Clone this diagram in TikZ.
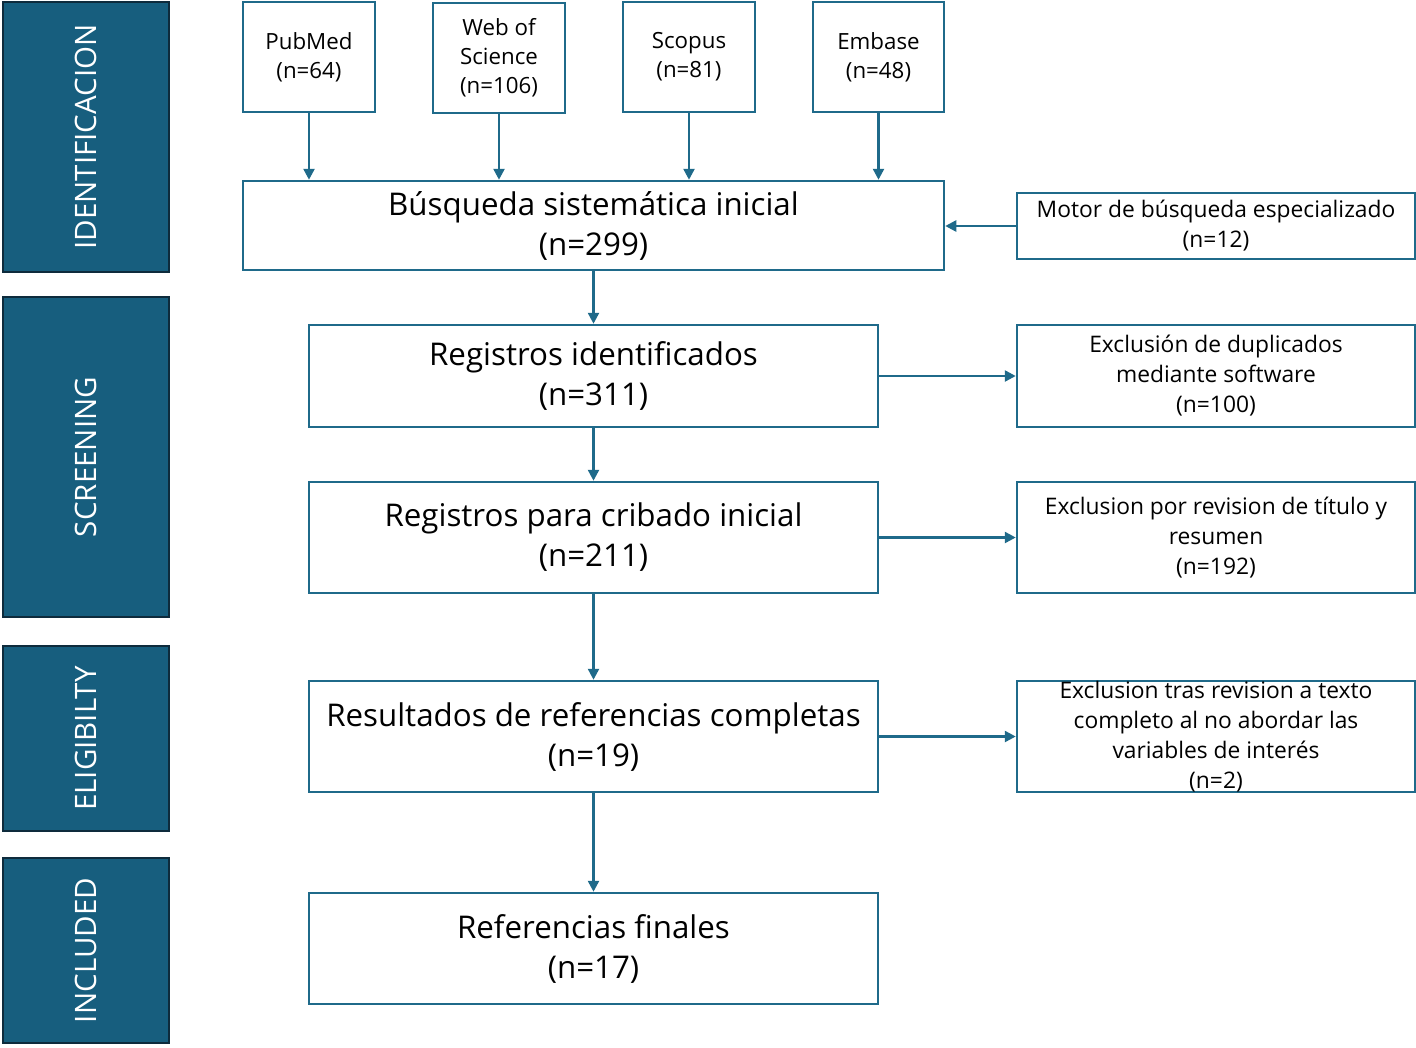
\documentclass[tikz,border=0pt]{standalone}
\usepackage{fontspec}
\setmainfont[Ligatures=NoCommon]{Open Sans}
\usetikzlibrary{arrows.meta}
\definecolor{phasefill}{HTML}{175E7E}
\definecolor{phaseborder}{HTML}{0E2B3C}
\definecolor{boxblue}{HTML}{1F6A8A}
\tikzset{
  phase/.style = {draw=phaseborder, fill=phasefill, line width=2pt, text=white,
                  rotate=90, inner sep=0pt, font=\fontsize{29.5}{34}\selectfont},
  dbbox/.style = {draw=boxblue, line width=2.5pt, align=center, inner sep=0pt,
                  font=\fontsize{22.3}{29}\selectfont},
  stagebox/.style = {draw=boxblue, line width=2.5pt, align=center, inner sep=0pt,
                  font=\fontsize{31.3}{40}\selectfont},
  sidebox/.style = {draw=boxblue, line width=2.5pt, align=center, inner sep=0pt,
                  font=\fontsize{22.8}{30}\selectfont},
  link/.style = {draw=boxblue, line width=2.5pt, -{Triangle[length=11pt,width=11pt]}}
}
\begin{document}
\begin{tikzpicture}[x=1pt, y=-1pt]
            \useasboundingbox (0,0) rectangle (1416,1047);
            % phases
            \node[phase, minimum width=270, minimum height=166] (ident) at (86,137) {IDENTIFICACION};
            \node[phase, minimum width=320, minimum height=166] (screen) at (86,457) {SCREENING};
            \node[phase, minimum width=185, minimum height=166] (elig) at (86,738.5) {ELIGIBILTY};
            \node[phase, minimum width=185, minimum height=166] (incl) at (86,950.5) {INCLUDED};
            % databases
            \node[dbbox, minimum width=132, minimum height=110] (pubmed) at (309,57) {PubMed\\(n=64)};
            \node[dbbox, minimum width=132, minimum height=110] (wos) at (499,58) {Web of\\Science\\(n=106)};
            \node[dbbox, minimum width=132, minimum height=110] (scopus) at (689,57) {Scopus\\(n=81)};
            \node[dbbox, minimum width=131, minimum height=110] (embase) at (878.5,57) {Embase\\(n=48)};
            % main flow
            \node[stagebox, minimum width=701, minimum height=89] (busq) at (593.5,225.5) {Búsqueda sistemática inicial\\(n=299)};
            \node[stagebox, minimum width=569, minimum height=102] (ident2) at (593.5,376) {Registros identificados\\(n=311)};
            \node[stagebox, minimum width=569, minimum height=111] (cribado) at (593.5,537.5) {Registros para cribado inicial\\(n=211)};
            \node[stagebox, minimum width=569, minimum height=111] (complet) at (593.5,736.5) {Resultados de referencias completas\\(n=19)};
            \node[stagebox, minimum width=569, minimum height=111] (final) at (593.5,948.5) {Referencias finales\\(n=17)};
            % side boxes
            \node[sidebox, minimum width=398, minimum height=66] (motor) at (1216,226) {Motor de búsqueda especializado\\(n=12)};
            \node[sidebox, minimum width=398, minimum height=102] (dupl) at (1216,376) {Exclusión de duplicados\\mediante software\\(n=100)};
            \node[sidebox, minimum width=398, minimum height=111] (titulo) at (1216,537.5) {Exclusion por revision de título y\\resumen\\(n=192)};
            \node[sidebox, minimum width=398, minimum height=111] (texto) at (1216,736.5) {Exclusion tras revision a texto\\completo al no abordar las\\variables de interés\\(n=2)};
            % arrows
            \foreach \db in {pubmed, wos, scopus, embase}
                \draw[link] (\db.south) -- (\db.south |- busq.north);
            \draw[link] (motor.west) -- (motor.west -| busq.east);
            \draw[link] (busq) -- (ident2);
            \draw[link] (ident2) -- (cribado);
            \draw[link] (cribado) -- (complet);
            \draw[link] (complet) -- (final);
            \draw[link] (ident2.east) -- (dupl.west);
            \draw[link] (cribado.east) -- (titulo.west);
            \draw[link] (complet.east) -- (texto.west);
\end{tikzpicture}
\end{document}
